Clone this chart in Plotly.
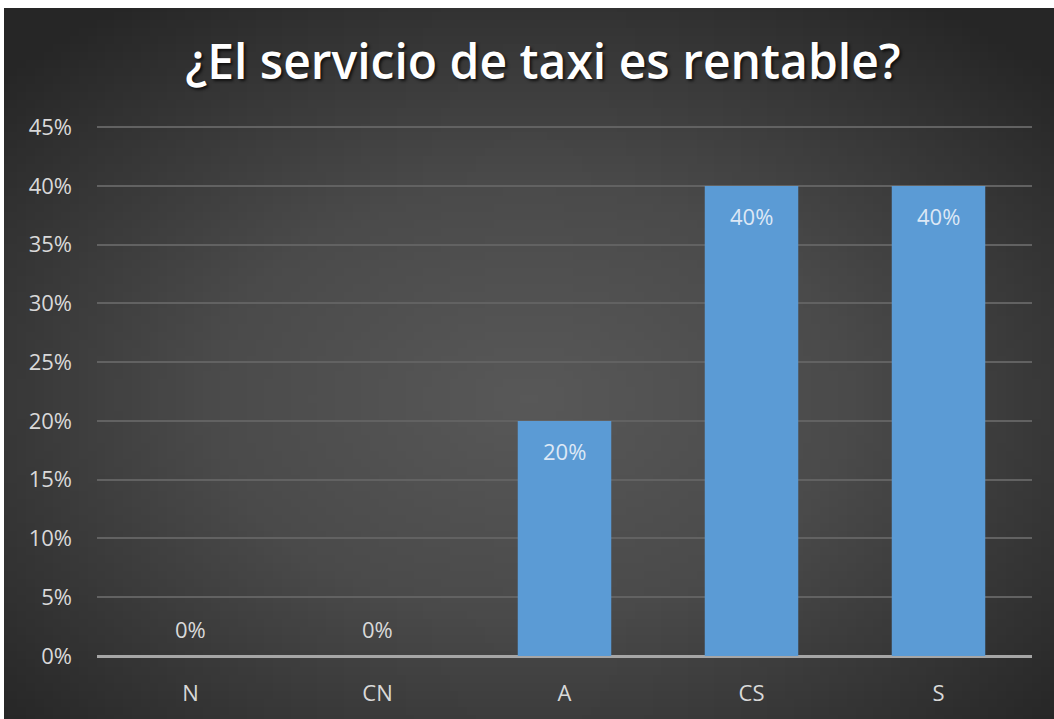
import numpy as np
import plotly.graph_objects as go

# --- Data ---
categories = ["N", "CN", "A", "CS", "S"]
values = [0.0, 0.0, 0.20, 0.40, 0.40]
tick_vals = [0, 0.05, 0.10, 0.15, 0.20, 0.25, 0.30, 0.35, 0.40, 0.45]
title_text = "¿El servicio de taxi es rentable?"

W, H = 1054, 719

# --- Radial dark background (drawn as a heatmap on its own axes) ---
gx = np.linspace(-1, 1, 120)
gy = np.linspace(-1, 1, 90)
XX, YY = np.meshgrid(gx, gy)
dist = np.sqrt(XX ** 2 + (YY + 0.1) ** 2)

fig = go.Figure()

fig.add_trace(go.Heatmap(
    x=gx, y=gy, z=dist,
    colorscale=[[0, "#585858"], [0.45, "#4a4a4a"], [1, "#262626"]],
    zmin=0, zmax=1.35,
    showscale=False, hoverinfo="skip",
    xaxis="x", yaxis="y",
))

# --- Bars ---
fig.add_trace(go.Bar(
    x=categories, y=values,
    marker=dict(color="#5b9bd5", line=dict(width=0)),
    xaxis="x2", yaxis="y2",
    hovertemplate="%{x}: %{y:.0%}<extra></extra>",
))

# --- Data labels ---
for c, v in zip(categories, values):
    fig.add_annotation(
        x=c, y=v, xref="x2", yref="y2",
        text=f"{v:.0%}", showarrow=False,
        yshift=-30 if v > 0 else 27,
        font=dict(family="Open Sans", size=22,
                  color="#dde8f5" if v > 0 else "#d9d9d9"),
    )

fig.update_layout(
    template="none",
    width=W, height=H,
    margin=dict(l=0, r=0, t=0, b=0, pad=0),
    paper_bgcolor="white",
    plot_bgcolor="rgba(0,0,0,0)",
    showlegend=False,
    bargap=0.5,
    font=dict(family="Open Sans", color="#d9d9d9"),
    title=dict(
        text=title_text,
        x=543 / W, xref="paper", xanchor="center",
        y=1 - 62 / H, yref="container", yanchor="middle",
        font=dict(family="Open Sans", size=48, color="white", weight=600,
                  shadow="2px 2px 3px rgba(0,0,0,0.7)"),
    ),
    xaxis=dict(domain=[4 / W, 1], range=[-1, 1], visible=False,
               fixedrange=True, automargin=False),
    yaxis=dict(domain=[0, 1 - 8 / H], range=[-1, 1], visible=False,
               fixedrange=True, automargin=False),
    xaxis2=dict(
        domain=[97 / W, 1032 / W], anchor="y2", automargin=False,
        showgrid=False, zeroline=False,
        showline=False, ticks="",
        tickfont=dict(size=22, color="#d9d9d9"),
        ticklabelstandoff=22,
    ),
    yaxis2=dict(
        domain=[(H - 656) / H, (H - 126) / H], anchor="x2", automargin=False,
        range=[0, 0.451],
        tickvals=tick_vals, tickformat=".0%",
        showgrid=True, gridcolor="#626262", gridwidth=2,
        zeroline=True, zerolinecolor="#a6a6a6", zerolinewidth=2.5,
        showline=False, ticks="",
        tickfont=dict(size=22, color="#d9d9d9"),
        ticklabelstandoff=24,
    ),
)

fig.write_html("out.html", config={"displayModeBar": False},
               post_script="document.body.style.margin='0';")
